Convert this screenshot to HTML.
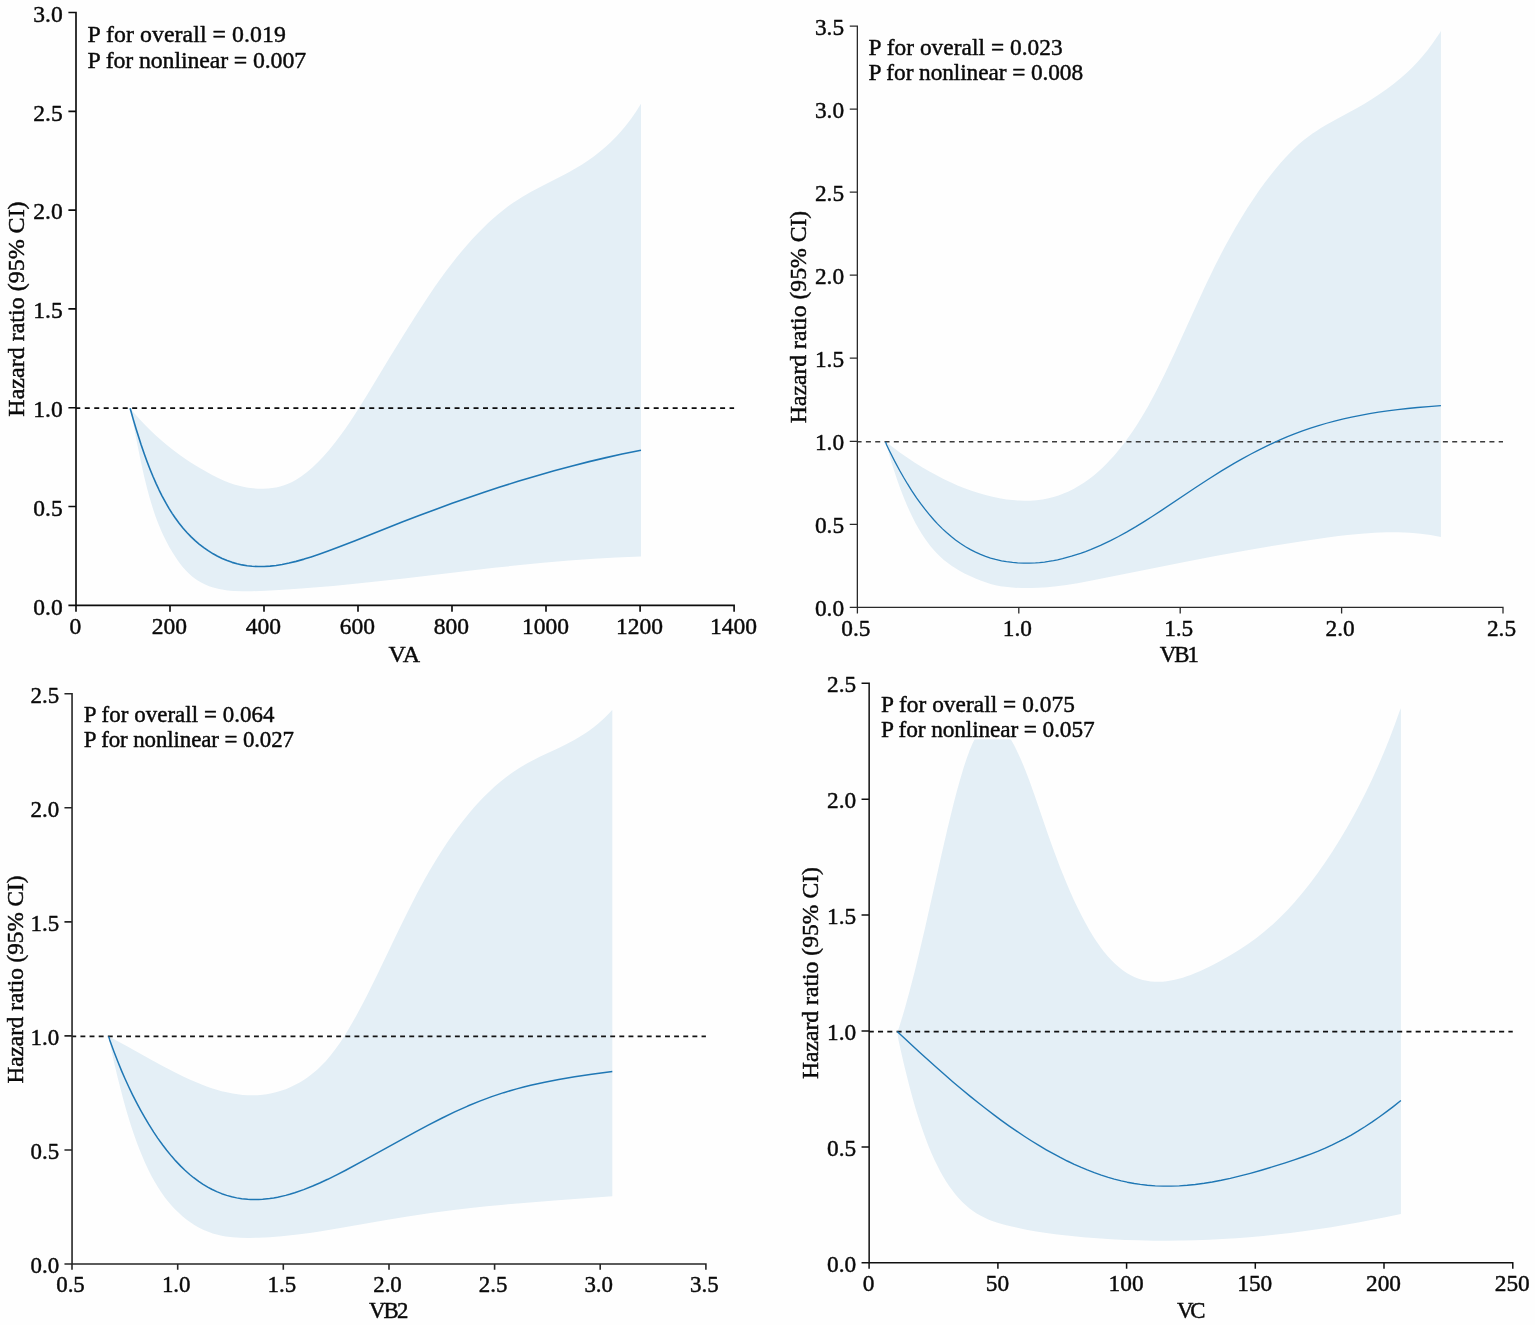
<!DOCTYPE html>
<html><head><meta charset="utf-8"><title>Hazard ratio curves</title>
<style>
html,body{margin:0;padding:0;background:#fff;}
svg{display:block;}
text{font-family:"Liberation Serif",serif;fill:#0a0a0a;stroke:#0a0a0a;stroke-width:0.45px;stroke-linejoin:round;}
</style></head><body>
<svg width="1535" height="1325" viewBox="0 0 1535 1325">
<rect x="0" y="0" width="1535" height="1325" fill="#fefefe"/>

<g>
<path d="M130.12,408.23 L134.12,412.99 L140.12,419.69 L145.12,424.96 L151.12,430.95 L156.12,435.66 L162.12,440.99 L167.12,445.20 L173.12,449.96 L179.12,454.45 L185.12,458.67 L191.12,462.64 L198.12,467.00 L205.12,471.09 L212.12,474.92 L218.12,477.95 L224.12,480.67 L229.12,482.67 L234.12,484.40 L238.12,485.57 L243.12,486.78 L248.12,487.70 L253.12,488.34 L258.12,488.70 L263.12,488.77 L268.12,488.54 L272.12,488.12 L276.12,487.45 L280.12,486.52 L284.12,485.30 L288.12,483.78 L292.12,481.92 L296.12,479.72 L301.12,476.52 L304.12,474.35 L307.12,472.02 L312.12,467.74 L318.12,462.01 L323.12,456.76 L329.12,449.91 L335.12,442.49 L341.12,434.53 L345.12,428.94 L350.12,421.65 L359.12,407.77 L368.12,393.20 L390.12,356.83 L403.12,335.73 L417.12,313.51 L429.12,295.17 L435.12,286.37 L440.12,279.26 L446.12,271.03 L451.12,264.43 L457.12,256.83 L462.12,250.75 L467.12,244.92 L472.12,239.32 L478.12,232.94 L483.12,227.88 L488.12,223.07 L493.12,218.52 L498.12,214.21 L503.12,210.16 L508.12,206.36 L513.12,202.82 L517.12,200.15 L522.12,197.01 L531.12,191.79 L541.12,186.45 L564.12,174.67 L570.12,171.43 L576.12,168.02 L582.12,164.38 L588.12,160.46 L594.12,156.20 L599.12,152.36 L605.12,147.35 L610.12,142.78 L616.12,136.76 L621.12,131.25 L626.12,125.22 L631.12,118.63 L636.12,111.44 L640.99,103.80 L640.99,556.45 L616.12,557.41 L594.12,558.64 L569.12,560.45 L543.12,562.74 L520.12,565.04 L494.12,567.87 L404.12,578.44 L369.12,582.35 L350.12,584.31 L333.12,585.94 L317.12,587.34 L301.12,588.58 L283.12,589.78 L266.12,590.69 L252.12,591.25 L242.12,591.35 L234.12,591.05 L230.12,590.71 L226.12,590.24 L222.12,589.59 L219.12,588.99 L213.12,587.46 L209.12,586.14 L205.12,584.53 L201.12,582.55 L198.12,580.80 L195.12,578.77 L192.12,576.46 L189.12,573.82 L186.12,570.84 L183.12,567.49 L180.12,563.73 L178.12,560.99 L175.12,556.55 L172.12,551.76 L169.12,546.63 L166.12,541.08 L163.12,534.98 L161.12,530.55 L159.12,525.80 L157.12,520.69 L155.12,515.19 L153.12,509.26 L151.12,502.87 L149.12,495.98 L147.12,488.57 L144.12,476.38 L141.12,462.87 L138.12,448.34 L130.12,408.23Z" fill="#e4eff6" stroke="none"/>
<line x1="76.0" y1="408.1" x2="734.1" y2="408.1" stroke="#0c0c0c" stroke-width="1.85" stroke-dasharray="5.0 4.4825" stroke-dashoffset="0.72"/>
<path d="M130.12,408.23 L133.12,418.85 L136.12,429.02 L141.12,444.76 L144.12,453.49 L147.12,461.73 L150.12,469.48 L153.12,476.76 L156.12,483.60 L159.12,490.02 L162.12,496.02 L166.12,503.43 L169.12,508.56 L172.12,513.35 L175.12,517.81 L179.12,523.28 L183.12,528.26 L187.12,532.77 L191.12,536.87 L195.12,540.61 L199.12,544.02 L204.12,547.88 L208.12,550.68 L213.12,553.82 L217.12,556.05 L222.12,558.51 L227.12,560.60 L232.12,562.36 L237.12,563.79 L242.12,564.91 L247.12,565.73 L252.12,566.27 L258.12,566.57 L264.12,566.52 L270.12,566.14 L276.12,565.46 L282.12,564.51 L289.12,563.08 L296.12,561.37 L304.12,559.11 L311.12,556.91 L319.12,554.22 L328.12,551.01 L338.12,547.29 L355.12,540.70 L402.12,522.03 L419.12,515.50 L436.12,509.15 L452.12,503.34 L468.12,497.70 L484.12,492.25 L499.12,487.31 L518.12,481.31 L536.12,475.90 L554.12,470.76 L572.12,465.91 L589.12,461.62 L606.12,457.60 L622.12,454.08 L640.99,450.24" fill="none" stroke="#1f77b4" stroke-width="1.6" stroke-linejoin="round"/>
<path d="M76.0,11.68 L76.0,605.3 L734.93,605.3 M76.0,605.3 L76.0,611.6999999999999 M170.0,605.3 L170.0,611.6999999999999 M264.0,605.3 L264.0,611.6999999999999 M358.0,605.3 L358.0,611.6999999999999 M452.0,605.3 L452.0,611.6999999999999 M546.0,605.3 L546.0,611.6999999999999 M640.1,605.3 L640.1,611.6999999999999 M734.1,605.3 L734.1,611.6999999999999 M76.0,605.3 L68.4,605.3 M76.0,506.5 L68.4,506.5 M76.0,407.7 L68.4,407.7 M76.0,308.9 L68.4,308.9 M76.0,210.1 L68.4,210.1 M76.0,111.3 L68.4,111.3 M76.0,12.5 L68.4,12.5" fill="none" stroke="#0c0c0c" stroke-width="1.65" stroke-linejoin="miter"/>
<text x="75.4" y="634.3" font-size="23.5" text-anchor="middle">0</text>
<text x="169.4" y="634.3" font-size="23.5" text-anchor="middle">200</text>
<text x="263.4" y="634.3" font-size="23.5" text-anchor="middle">400</text>
<text x="357.4" y="634.3" font-size="23.5" text-anchor="middle">600</text>
<text x="451.4" y="634.3" font-size="23.5" text-anchor="middle">800</text>
<text x="545.4" y="634.3" font-size="23.5" text-anchor="middle">1000</text>
<text x="639.5" y="634.3" font-size="23.5" text-anchor="middle">1200</text>
<text x="733.5" y="634.3" font-size="23.5" text-anchor="middle">1400</text>
<text x="62.7" y="614.5" font-size="23.5" text-anchor="end">0.0</text>
<text x="62.7" y="515.7" font-size="23.5" text-anchor="end">0.5</text>
<text x="62.7" y="416.9" font-size="23.5" text-anchor="end">1.0</text>
<text x="62.7" y="318.09999999999997" font-size="23.5" text-anchor="end">1.5</text>
<text x="62.7" y="219.29999999999998" font-size="23.5" text-anchor="end">2.0</text>
<text x="62.7" y="120.5" font-size="23.5" text-anchor="end">2.5</text>
<text x="62.7" y="21.7" font-size="23.5" text-anchor="end">3.0</text>
<text x="404.3" y="661.6" font-size="24.0" text-anchor="middle">VA</text>
<text transform="translate(24.4,309) rotate(-90)" font-size="24.0" text-anchor="middle">Hazard ratio (95% CI)</text>
<text x="87.6" y="41.7" font-size="23.8" textLength="198.3" lengthAdjust="spacing">P for overall = 0.019</text>
<text x="87.6" y="67.9" font-size="23.8" textLength="218.5" lengthAdjust="spacing">P for nonlinear = 0.007</text>
</g>
<g>
<path d="M885.53,441.72 L893.53,447.82 L900.53,452.93 L907.53,457.79 L914.53,462.42 L922.53,467.41 L929.53,471.52 L936.53,475.37 L943.53,478.97 L950.53,482.31 L957.53,485.39 L964.53,488.21 L971.53,490.76 L978.53,493.05 L985.53,495.05 L992.53,496.78 L999.53,498.23 L1006.53,499.38 L1012.53,500.11 L1018.53,500.58 L1024.53,500.76 L1030.53,500.63 L1036.53,500.18 L1042.53,499.38 L1047.53,498.44 L1053.53,496.95 L1058.53,495.40 L1063.53,493.55 L1068.53,491.40 L1073.53,488.93 L1078.53,486.12 L1083.53,482.98 L1088.53,479.47 L1092.53,476.41 L1095.53,473.95 L1099.53,470.46 L1102.53,467.67 L1106.53,463.73 L1109.53,460.61 L1113.53,456.20 L1116.53,452.72 L1120.53,447.83 L1123.53,443.98 L1129.53,435.79 L1133.53,429.97 L1136.53,425.40 L1142.53,415.75 L1147.53,407.17 L1152.53,398.09 L1157.53,388.52 L1163.53,376.49 L1168.53,366.09 L1174.53,353.26 L1197.53,302.68 L1206.53,283.31 L1215.53,264.79 L1219.53,256.91 L1224.53,247.37 L1229.53,238.17 L1235.53,227.57 L1241.53,217.46 L1247.53,207.81 L1252.53,200.14 L1258.53,191.35 L1264.53,183.02 L1270.53,175.14 L1275.53,168.92 L1280.53,163.02 L1285.53,157.44 L1289.53,153.22 L1294.53,148.28 L1298.53,144.60 L1303.53,140.35 L1308.53,136.47 L1312.53,133.59 L1316.53,130.88 L1320.53,128.33 L1325.53,125.32 L1334.53,120.23 L1357.53,107.76 L1364.53,103.70 L1370.53,100.02 L1378.53,94.81 L1386.53,89.23 L1393.53,84.00 L1400.53,78.33 L1406.53,73.03 L1411.53,68.25 L1417.53,62.00 L1422.53,56.33 L1427.53,50.17 L1432.53,43.50 L1438.53,34.75 L1440.53,31.65 L1440.92,30.61 L1440.92,536.93 L1430.53,535.05 L1420.53,533.71 L1415.53,533.21 L1409.53,532.75 L1398.53,532.28 L1392.53,532.22 L1386.53,532.27 L1374.53,532.72 L1361.53,533.63 L1347.53,535.03 L1338.53,536.09 L1327.53,537.53 L1300.53,541.44 L1273.53,545.73 L1244.53,550.72 L1215.53,556.02 L1184.53,561.96 L1154.53,567.90 L1090.53,580.79 L1077.53,583.17 L1066.53,584.93 L1056.53,586.27 L1047.53,587.20 L1038.53,587.83 L1030.53,588.11 L1022.53,588.08 L1014.53,587.72 L1007.53,587.11 L1000.53,586.13 L995.53,585.14 L990.53,583.88 L985.53,582.37 L980.53,580.60 L975.53,578.59 L970.53,576.36 L964.53,573.39 L959.53,570.68 L955.53,568.32 L951.53,565.73 L947.53,562.86 L943.53,559.65 L939.53,556.05 L936.53,553.05 L933.53,549.79 L930.53,546.22 L927.53,542.34 L924.53,538.11 L921.53,533.52 L918.53,528.55 L915.53,523.16 L912.53,517.34 L909.53,511.06 L906.53,504.30 L903.53,497.04 L900.53,489.26 L897.53,480.93 L895.53,475.06 L892.53,465.77 L890.53,459.24 L885.53,441.72Z" fill="#e4eff6" stroke="none"/>
<line x1="857.35" y1="441.7" x2="1503.0" y2="441.7" stroke="#3c3c3c" stroke-width="1.35" stroke-dasharray="5.0 4.306" stroke-dashoffset="0.75"/>
<path d="M885.53,441.72 L886.53,444.77 L889.53,450.99 L894.53,460.89 L899.53,470.22 L903.53,477.27 L907.53,483.96 L911.53,490.32 L916.53,497.79 L920.53,503.41 L924.53,508.70 L928.53,513.69 L933.53,519.51 L937.53,523.84 L942.53,528.86 L946.53,532.57 L951.53,536.84 L955.53,539.98 L960.53,543.56 L965.53,546.78 L970.53,549.65 L975.53,552.20 L980.53,554.44 L985.53,556.38 L990.53,558.04 L995.53,559.44 L1001.53,560.79 L1006.53,561.68 L1012.53,562.46 L1017.53,562.89 L1023.53,563.16 L1029.53,563.16 L1035.53,562.90 L1039.53,562.58 L1044.53,562.03 L1048.53,561.47 L1053.53,560.61 L1057.53,559.82 L1062.53,558.68 L1071.53,556.24 L1080.53,553.34 L1085.53,551.53 L1090.53,549.59 L1100.53,545.33 L1110.53,540.59 L1118.53,536.47 L1126.53,532.09 L1135.53,526.87 L1144.53,521.36 L1152.53,516.28 L1161.53,510.41 L1194.53,488.29 L1207.53,479.74 L1221.53,470.92 L1234.53,463.16 L1242.53,458.61 L1250.53,454.25 L1258.53,450.07 L1265.53,446.59 L1273.53,442.79 L1280.53,439.65 L1287.53,436.68 L1294.53,433.89 L1302.53,430.91 L1310.53,428.15 L1318.53,425.60 L1326.53,423.25 L1334.53,421.09 L1343.53,418.88 L1351.53,417.09 L1360.53,415.27 L1369.53,413.63 L1378.53,412.17 L1387.53,410.87 L1397.53,409.60 L1407.53,408.48 L1417.53,407.51 L1428.53,406.59 L1440.92,405.68" fill="none" stroke="#1f77b4" stroke-width="1.3" stroke-linejoin="round"/>
<path d="M857.35,25.50 L857.35,607.3 L1503.65,607.3 M857.4,607.3 L857.4,613.4 M1018.8,607.3 L1018.8,613.4 M1180.2,607.3 L1180.2,613.4 M1341.6,607.3 L1341.6,613.4 M1503.0,607.3 L1503.0,613.4 M857.35,607.3 L849.75,607.3 M857.35,524.3 L849.75,524.3 M857.35,441.3 L849.75,441.3 M857.35,358.2 L849.75,358.2 M857.35,275.2 L849.75,275.2 M857.35,192.2 L849.75,192.2 M857.35,109.2 L849.75,109.2 M857.35,26.2 L849.75,26.2" fill="none" stroke="#2a2a2a" stroke-width="1.3" stroke-linejoin="miter"/>
<text x="855.9" y="635.9" font-size="23.3" text-anchor="middle">0.5</text>
<text x="1017.3" y="635.9" font-size="23.3" text-anchor="middle">1.0</text>
<text x="1178.7" y="635.9" font-size="23.3" text-anchor="middle">1.5</text>
<text x="1340.1" y="635.9" font-size="23.3" text-anchor="middle">2.0</text>
<text x="1501.5" y="635.9" font-size="23.3" text-anchor="middle">2.5</text>
<text x="844.0500000000001" y="616.0999999999999" font-size="23.3" text-anchor="end">0.0</text>
<text x="844.0500000000001" y="533.0999999999999" font-size="23.3" text-anchor="end">0.5</text>
<text x="844.0500000000001" y="450.1" font-size="23.3" text-anchor="end">1.0</text>
<text x="844.0500000000001" y="367.0" font-size="23.3" text-anchor="end">1.5</text>
<text x="844.0500000000001" y="284.0" font-size="23.3" text-anchor="end">2.0</text>
<text x="844.0500000000001" y="201.0" font-size="23.3" text-anchor="end">2.5</text>
<text x="844.0500000000001" y="118.0" font-size="23.3" text-anchor="end">3.0</text>
<text x="844.0500000000001" y="35.0" font-size="23.3" text-anchor="end">3.5</text>
<text x="1179.4" y="662.0" font-size="22.8" text-anchor="middle" textLength="39.2" lengthAdjust="spacing">VB1</text>
<text transform="translate(806.1,317.0) rotate(-90)" font-size="23.7" text-anchor="middle">Hazard ratio (95% CI)</text>
<text x="868.6" y="54.85" font-size="23.3" textLength="194.1" lengthAdjust="spacing">P for overall = 0.023</text>
<text x="868.6" y="80.2" font-size="23.3" textLength="214.5" lengthAdjust="spacing">P for nonlinear = 0.008</text>
</g>
<g>
<path d="M108.70,1036.33 L109.70,1036.94 L125.70,1045.54 L150.70,1059.47 L161.70,1065.50 L173.70,1071.80 L183.70,1076.72 L189.70,1079.50 L195.70,1082.11 L201.70,1084.55 L206.70,1086.43 L211.70,1088.16 L216.70,1089.73 L221.70,1091.13 L226.70,1092.35 L232.70,1093.56 L237.70,1094.34 L242.70,1094.90 L247.70,1095.23 L252.70,1095.33 L257.70,1095.17 L262.70,1094.75 L266.70,1094.22 L271.70,1093.30 L276.70,1092.09 L281.70,1090.57 L285.70,1089.13 L290.70,1087.04 L294.70,1085.12 L299.70,1082.42 L303.70,1079.98 L306.70,1077.98 L309.70,1075.81 L314.70,1071.82 L317.70,1069.18 L320.70,1066.34 L325.70,1061.15 L330.70,1055.32 L335.70,1048.83 L340.70,1041.67 L345.70,1033.90 L350.70,1025.58 L355.70,1016.77 L360.70,1007.55 L366.70,996.00 L377.70,973.84 L398.70,930.12 L407.70,911.73 L416.70,894.07 L424.70,879.28 L429.70,870.50 L435.70,860.42 L440.70,852.41 L446.70,843.25 L451.70,835.98 L457.70,827.70 L462.70,821.15 L468.70,813.71 L473.70,807.85 L478.70,802.30 L483.70,797.05 L489.70,791.14 L494.70,786.54 L499.70,782.21 L504.70,778.17 L510.70,773.67 L514.71,770.89 L519.71,767.65 L524.71,764.66 L529.71,761.88 L539.71,756.82 L558.71,747.92 L566.71,744.01 L574.71,739.75 L581.71,735.60 L585.71,733.01 L589.71,730.23 L593.71,727.23 L597.71,724.01 L601.71,720.53 L604.71,717.74 L608.71,713.77 L611.71,710.59 L612.32,710.12 L612.32,1196.28 L557.71,1200.19 L520.71,1203.16 L503.70,1204.68 L486.70,1206.34 L470.70,1208.04 L455.70,1209.78 L430.70,1213.02 L407.70,1216.44 L387.70,1219.78 L341.70,1227.87 L319.70,1231.43 L309.70,1232.89 L299.70,1234.21 L290.70,1235.26 L281.70,1236.17 L269.70,1237.13 L258.70,1237.71 L248.70,1237.97 L239.70,1237.83 L232.70,1237.35 L225.70,1236.46 L221.70,1235.72 L218.70,1235.06 L212.70,1233.38 L207.70,1231.61 L203.70,1229.92 L198.70,1227.44 L194.70,1225.15 L190.70,1222.56 L186.70,1219.66 L182.70,1216.44 L178.70,1212.86 L174.70,1208.92 L171.70,1205.71 L167.70,1201.01 L164.70,1197.15 L160.70,1191.51 L157.70,1186.86 L154.70,1181.83 L151.70,1176.40 L148.70,1170.53 L145.70,1164.19 L142.70,1157.37 L139.70,1150.03 L136.70,1142.14 L133.70,1133.69 L130.70,1124.63 L128.70,1118.25 L125.70,1108.15 L122.70,1097.37 L117.70,1077.85 L114.70,1065.16 L111.70,1051.70 L109.70,1042.28 L108.70,1036.33Z" fill="#e4eff6" stroke="none"/>
<line x1="72.05" y1="1036.3" x2="705.9" y2="1036.3" stroke="#141414" stroke-width="1.7" stroke-dasharray="4.9 4.234" stroke-dashoffset="0.75"/>
<path d="M108.70,1036.33 L109.70,1039.89 L113.70,1050.96 L117.70,1061.35 L121.70,1071.10 L124.70,1078.03 L128.70,1086.79 L132.70,1095.07 L136.70,1102.91 L140.70,1110.36 L144.70,1117.45 L148.70,1124.19 L153.70,1132.11 L157.70,1138.07 L162.70,1145.05 L166.70,1150.28 L171.70,1156.37 L175.70,1160.89 L180.70,1166.14 L184.70,1170.01 L189.70,1174.46 L193.70,1177.72 L198.70,1181.43 L202.70,1184.11 L207.70,1187.12 L211.70,1189.27 L216.70,1191.64 L221.70,1193.67 L226.70,1195.38 L231.70,1196.78 L236.70,1197.88 L241.70,1198.70 L247.70,1199.33 L250.70,1199.50 L254.70,1199.58 L258.70,1199.51 L262.70,1199.29 L269.70,1198.55 L273.70,1197.94 L277.70,1197.20 L285.70,1195.36 L289.70,1194.26 L294.70,1192.74 L303.70,1189.62 L312.70,1186.06 L319.70,1183.02 L327.70,1179.30 L336.70,1174.86 L345.70,1170.22 L365.70,1159.45 L414.70,1132.36 L428.70,1124.89 L441.70,1118.24 L454.70,1111.93 L467.70,1106.06 L479.70,1101.10 L491.70,1096.64 L503.70,1092.66 L516.71,1088.85 L523.71,1086.99 L530.71,1085.27 L544.71,1082.15 L558.71,1079.44 L574.71,1076.74 L591.71,1074.23 L612.32,1071.52" fill="none" stroke="#1f77b4" stroke-width="1.5" stroke-linejoin="round"/>
<path d="M72.05,692.95 L72.05,1264.05 L706.70,1264.05 M72.0,1264.05 L72.0,1269.75 M177.7,1264.05 L177.7,1269.75 M283.3,1264.05 L283.3,1269.75 M389.0,1264.05 L389.0,1269.75 M494.6,1264.05 L494.6,1269.75 M600.2,1264.05 L600.2,1269.75 M705.9,1264.05 L705.9,1269.75 M72.05,1264.0 L64.45,1264.0 M72.05,1150.0 L64.45,1150.0 M72.05,1035.9 L64.45,1035.9 M72.05,921.9 L64.45,921.9 M72.05,807.8 L64.45,807.8 M72.05,693.8 L64.45,693.8" fill="none" stroke="#262626" stroke-width="1.6" stroke-linejoin="miter"/>
<text x="70.5" y="1292.25" font-size="22.9" text-anchor="middle">0.5</text>
<text x="176.2" y="1292.25" font-size="22.9" text-anchor="middle">1.0</text>
<text x="281.8" y="1292.25" font-size="22.9" text-anchor="middle">1.5</text>
<text x="387.5" y="1292.25" font-size="22.9" text-anchor="middle">2.0</text>
<text x="493.1" y="1292.25" font-size="22.9" text-anchor="middle">2.5</text>
<text x="598.7" y="1292.25" font-size="22.9" text-anchor="middle">3.0</text>
<text x="704.4" y="1292.25" font-size="22.9" text-anchor="middle">3.5</text>
<text x="59.15" y="1272.7" font-size="22.9" text-anchor="end">0.0</text>
<text x="59.15" y="1158.7" font-size="22.9" text-anchor="end">0.5</text>
<text x="59.15" y="1044.6000000000001" font-size="22.9" text-anchor="end">1.0</text>
<text x="59.15" y="930.6" font-size="22.9" text-anchor="end">1.5</text>
<text x="59.15" y="816.5" font-size="22.9" text-anchor="end">2.0</text>
<text x="59.15" y="702.5" font-size="22.9" text-anchor="end">2.5</text>
<text x="388.7" y="1318.0" font-size="22.8" text-anchor="middle" textLength="39.2" lengthAdjust="spacing">VB2</text>
<text transform="translate(22.7,979.5) rotate(-90)" font-size="23.2" text-anchor="middle">Hazard ratio (95% CI)</text>
<text x="83.8" y="721.8" font-size="22.9" textLength="190.7" lengthAdjust="spacing">P for overall = 0.064</text>
<text x="83.8" y="746.9" font-size="22.9" textLength="210.2" lengthAdjust="spacing">P for nonlinear = 0.027</text>
</g>
<g>
<path d="M897.27,1031.57 L898.75,1028.38 L901.75,1018.87 L904.75,1008.74 L909.75,990.62 L914.75,971.15 L919.75,950.59 L924.75,929.18 L941.75,853.52 L947.75,827.54 L953.75,803.04 L956.75,791.55 L959.75,780.69 L963.75,767.34 L966.75,758.27 L969.75,750.12 L972.75,742.97 L975.75,736.90 L976.75,735.14 L978.75,731.97 L979.75,730.57 L981.75,728.14 L983.75,726.17 L985.75,724.67 L986.75,724.08 L988.75,723.23 L990.75,722.82 L992.75,722.81 L993.75,722.96 L995.75,723.55 L997.75,724.53 L999.75,725.87 L1001.75,727.57 L1003.75,729.61 L1005.75,731.99 L1007.75,734.68 L1009.75,737.68 L1011.75,740.98 L1013.75,744.55 L1015.75,748.40 L1018.75,754.64 L1021.75,761.41 L1024.75,768.68 L1028.75,779.05 L1034.75,795.73 L1047.75,833.63 L1052.75,847.78 L1059.75,866.45 L1065.75,881.36 L1069.75,890.74 L1073.75,899.66 L1077.75,908.11 L1081.75,916.09 L1085.75,923.60 L1089.75,930.64 L1093.75,937.19 L1096.75,941.78 L1100.75,947.48 L1103.75,951.42 L1107.75,956.25 L1111.75,960.60 L1114.75,963.55 L1118.75,967.10 L1122.75,970.21 L1126.75,972.91 L1130.75,975.22 L1134.75,977.15 L1138.75,978.72 L1142.75,979.96 L1146.75,980.87 L1150.75,981.47 L1154.75,981.80 L1159.75,981.83 L1162.75,981.67 L1166.75,981.25 L1170.75,980.61 L1174.75,979.79 L1178.75,978.79 L1182.75,977.64 L1186.75,976.34 L1190.75,974.91 L1194.75,973.35 L1199.75,971.24 L1208.75,967.03 L1213.75,964.50 L1219.75,961.31 L1230.75,955.08 L1239.75,949.53 L1248.75,943.50 L1256.75,937.66 L1264.75,931.32 L1272.75,924.40 L1279.75,917.84 L1287.75,909.70 L1294.75,902.02 L1302.75,892.59 L1309.75,883.76 L1317.75,873.01 L1324.75,863.00 L1332.75,850.88 L1339.75,839.68 L1346.75,827.90 L1353.75,815.51 L1359.75,804.32 L1365.75,792.53 L1371.75,780.06 L1377.75,766.84 L1383.75,752.79 L1388.75,740.40 L1394.75,724.64 L1399.75,710.72 L1400.91,708.23 L1400.91,1213.88 L1385.27,1217.21 L1372.27,1219.83 L1358.27,1222.50 L1345.27,1224.82 L1331.27,1227.14 L1317.27,1229.30 L1303.27,1231.27 L1290.27,1232.94 L1276.27,1234.57 L1263.27,1235.91 L1249.27,1237.17 L1236.27,1238.18 L1222.27,1239.08 L1209.27,1239.74 L1195.27,1240.26 L1182.27,1240.57 L1167.27,1240.72 L1153.27,1240.64 L1139.27,1240.37 L1125.27,1239.88 L1111.27,1239.19 L1097.27,1238.29 L1083.27,1237.17 L1069.27,1235.84 L1057.27,1234.49 L1046.27,1233.04 L1036.27,1231.49 L1026.27,1229.69 L1016.27,1227.60 L1006.27,1225.19 L998.27,1222.96 L992.27,1220.96 L988.27,1219.39 L984.27,1217.59 L980.27,1215.52 L976.27,1213.15 L972.27,1210.43 L969.27,1208.15 L965.27,1204.74 L962.27,1201.89 L958.27,1197.67 L955.27,1194.17 L952.27,1190.35 L949.27,1186.19 L946.27,1181.66 L943.27,1176.74 L940.27,1171.40 L937.27,1165.62 L934.27,1159.38 L931.27,1152.64 L928.27,1145.39 L926.27,1140.26 L923.27,1132.09 L920.27,1123.33 L917.27,1113.97 L915.27,1107.38 L912.27,1096.95 L909.27,1085.84 L904.27,1065.76 L901.27,1052.73 L898.27,1038.93 L897.27,1031.57Z" fill="#e4eff6" stroke="none"/>
<rect x="879.5" y="718.5" width="216" height="20.8" fill="#fefefe"/>
<line x1="869.15" y1="1031.6" x2="1512.75" y2="1031.6" stroke="#101010" stroke-width="1.7" stroke-dasharray="5.05 4.22" stroke-dashoffset="0.4"/>
<path d="M897.27,1031.57 L898.27,1032.41 L919.27,1051.99 L936.27,1067.35 L953.27,1082.17 L962.27,1089.76 L970.27,1096.36 L978.27,1102.79 L986.27,1109.06 L994.27,1115.15 L1001.27,1120.33 L1009.27,1126.07 L1016.27,1130.92 L1024.27,1136.26 L1031.27,1140.76 L1039.27,1145.69 L1046.27,1149.81 L1053.27,1153.73 L1060.27,1157.47 L1067.27,1161.00 L1074.27,1164.33 L1081.27,1167.45 L1087.27,1169.94 L1094.27,1172.65 L1101.27,1175.12 L1108.27,1177.36 L1114.27,1179.08 L1121.27,1180.87 L1127.27,1182.19 L1134.27,1183.50 L1140.27,1184.41 L1147.27,1185.22 L1155.27,1185.84 L1163.27,1186.13 L1171.27,1186.13 L1179.27,1185.84 L1187.27,1185.27 L1195.27,1184.46 L1204.27,1183.26 L1212.27,1181.96 L1221.27,1180.26 L1230.27,1178.33 L1240.27,1175.94 L1250.27,1173.32 L1261.27,1170.22 L1272.27,1166.93 L1285.27,1162.86 L1294.27,1159.90 L1303.27,1156.77 L1311.27,1153.80 L1318.27,1151.03 L1325.27,1148.07 L1332.27,1144.90 L1339.27,1141.49 L1345.27,1138.36 L1351.27,1135.03 L1358.27,1130.89 L1365.27,1126.50 L1372.27,1121.87 L1379.27,1117.00 L1386.27,1111.90 L1393.27,1106.58 L1400.91,1100.54" fill="none" stroke="#1f77b4" stroke-width="1.4" stroke-linejoin="round"/>
<path d="M869.15,682.55 L869.15,1262.75 L1513.50,1262.75 M869.1,1262.75 L869.1,1268.75 M997.9,1262.75 L997.9,1268.75 M1126.6,1262.75 L1126.6,1268.75 M1255.3,1262.75 L1255.3,1268.75 M1384.0,1262.75 L1384.0,1268.75 M1512.8,1262.75 L1512.8,1268.75 M869.15,1262.8 L861.55,1262.8 M869.15,1146.9 L861.55,1146.9 M869.15,1031.0 L861.55,1031.0 M869.15,915.1 L861.55,915.1 M869.15,799.2 L861.55,799.2 M869.15,683.3 L861.55,683.3" fill="none" stroke="#101010" stroke-width="1.5" stroke-linejoin="miter"/>
<text x="868.6" y="1291.25" font-size="23.3" text-anchor="middle">0</text>
<text x="997.4" y="1291.25" font-size="23.3" text-anchor="middle">50</text>
<text x="1126.1" y="1291.25" font-size="23.3" text-anchor="middle">100</text>
<text x="1254.8" y="1291.25" font-size="23.3" text-anchor="middle">150</text>
<text x="1383.5" y="1291.25" font-size="23.3" text-anchor="middle">200</text>
<text x="1512.3" y="1291.25" font-size="23.3" text-anchor="middle">250</text>
<text x="856.15" y="1271.8" font-size="23.3" text-anchor="end">0.0</text>
<text x="856.15" y="1155.9" font-size="23.3" text-anchor="end">0.5</text>
<text x="856.15" y="1040.0" font-size="23.3" text-anchor="end">1.0</text>
<text x="856.15" y="924.1" font-size="23.3" text-anchor="end">1.5</text>
<text x="856.15" y="808.2" font-size="23.3" text-anchor="end">2.0</text>
<text x="856.15" y="692.3" font-size="23.3" text-anchor="end">2.5</text>
<text x="1191.2" y="1317.5" font-size="22.8" text-anchor="middle" textLength="28.6" lengthAdjust="spacing">VC</text>
<text transform="translate(818.2,973.1) rotate(-90)" font-size="23.65" text-anchor="middle">Hazard ratio (95% CI)</text>
<text x="880.9" y="711.8" font-size="23.3" textLength="193.9" lengthAdjust="spacing">P for overall = 0.075</text>
<text x="880.9" y="737.4" font-size="23.3" textLength="213.7" lengthAdjust="spacing">P for nonlinear = 0.057</text>
</g>
</svg></body></html>
